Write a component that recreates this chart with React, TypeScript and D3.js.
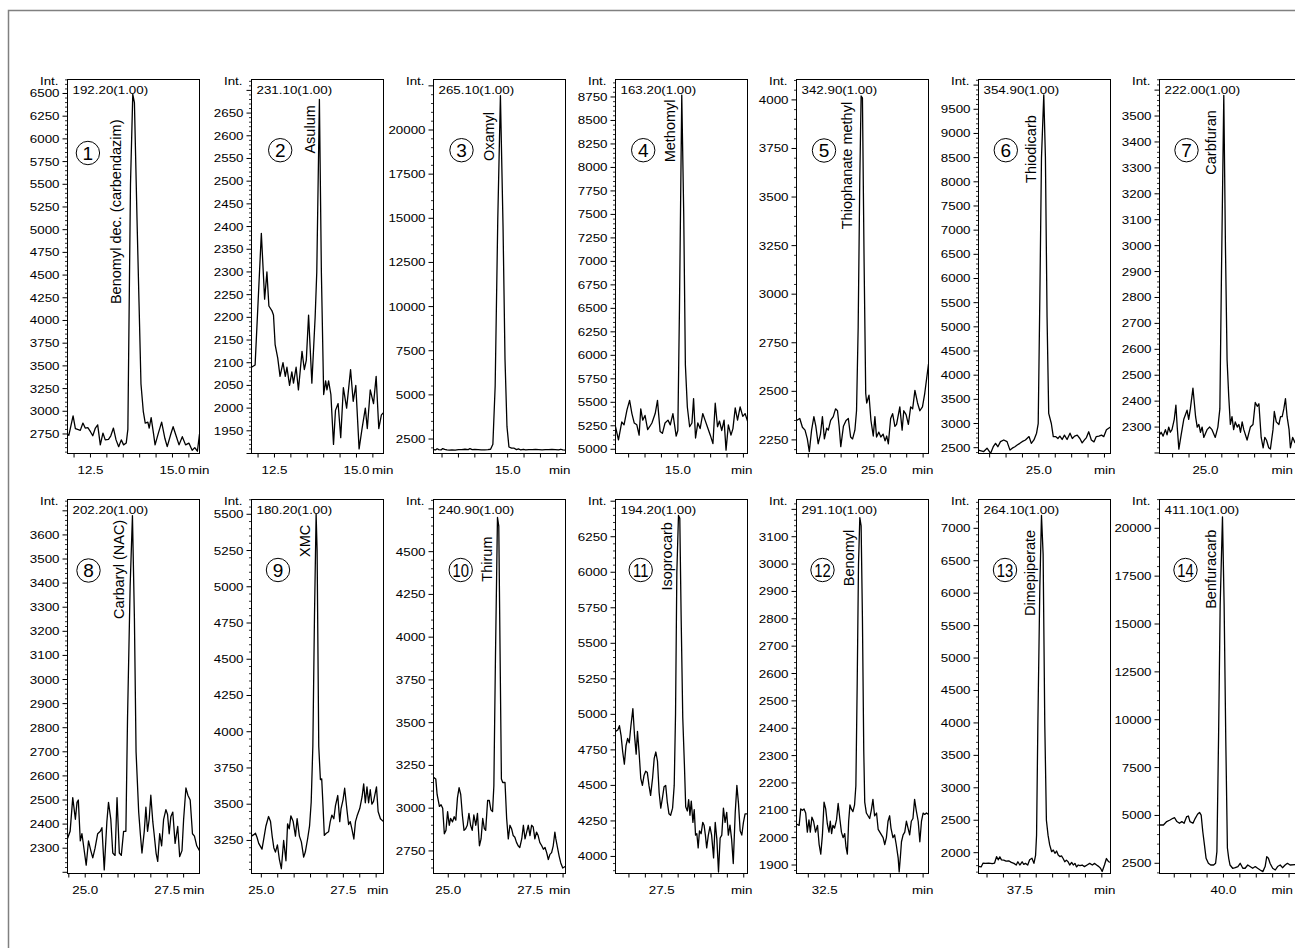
import React from "react";
import * as d3 from "d3";

const FONT = "'Liberation Sans', Arial, Helvetica, sans-serif";
const SX = 1.15;
const TICK_FS = 11.6;

// ---------- data ----------
const mzLabels = [
  "192.20(1.00)", "231.10(1.00)", "265.10(1.00)", "163.20(1.00)", "342.90(1.00)", "354.90(1.00)", "222.00(1.00)",
  "202.20(1.00)", "180.20(1.00)", "240.90(1.00)", "194.20(1.00)", "291.10(1.00)", "264.10(1.00)", "411.10(1.00)",
];
const compounds = [
  "Benomyl dec. (carbendazim)", "Asulum", "Oxamyl", "Methomyl", "Thiophanate methyl", "Thiodicarb", "Carbfuran",
  "Carbaryl (NAC)", "XMC", "Thirum", "Isoprocarb", "Benomyl", "Dimepiperate", "Benfuracarb",
];
const timeDomains = [
  [11.8, 15.824], [11.8, 15.824], [12.74, 16.764], [13.1, 17.124], [22.64, 26.664], [23.16, 27.184], [23.6, 27.868],
  [24.46, 28.484], [24.7, 28.724], [24.55, 28.574], [26.09, 30.114], [31.64, 35.664], [36.24, 40.264], [38.05, 42.318],
];
const intDomains = [
  [2535, 6654], [1900, 2724], [1680, 22860], [4955, 8936], [2180, 4105], [2380, 10116], [2198, 3641],
  [2195, 3747], [3022, 5602], [2618, 4805], [3880, 6512], [1869, 3236], [1679, 7444], [1967, 21504],
];
const yMajorSteps = [250, 50, 2500, 250, 250, 500, 100, 100, 250, 250, 250, 100, 500, 2500];
const xLabelTicks = [
  [12.5, 15], [12.5, 15], [15], [15], [25], [25], [25],
  [25, 27.5], [25, 27.5], [25, 27.5], [27.5], [32.5], [37.5], [40],
];

const trace1 = [[11.8,2750],[11.84,2735],[11.97,2950],[12.04,2810],[12.11,2800],[12.19,2790],[12.27,2870],[12.34,2815],[12.42,2820],[12.5,2775],[12.57,2730],[12.65,2815],[12.72,2850],[12.8,2630],[12.88,2760],[12.95,2685],[13.05,2690],[13.12,2730],[13.2,2815],[13.28,2685],[13.36,2610],[13.44,2685],[13.51,2630],[13.59,2650],[13.64,2800],[13.72,5500],[13.79,6490],[13.84,6400],[13.92,5100],[13.98,4200],[14.04,3300],[14.11,3000],[14.17,2870],[14.25,2880],[14.29,2815],[14.35,2930],[14.42,2760],[14.47,2630],[14.57,2760],[14.67,2880],[14.77,2700],[14.84,2610],[14.95,2750],[15.02,2830],[15.12,2720],[15.2,2630],[15.3,2720],[15.4,2630],[15.5,2650],[15.6,2570],[15.68,2600],[15.76,2560],[15.824,2750]];
const trace2 = [[11.8,2090],[11.91,2095],[12.1,2385],[12.2,2240],[12.27,2300],[12.33,2225],[12.42,2215],[12.47,2205],[12.52,2140],[12.6,2110],[12.67,2070],[12.76,2100],[12.83,2070],[12.88,2090],[12.96,2050],[13.03,2080],[13.08,2055],[13.16,2090],[13.23,2040],[13.34,2125],[13.41,2085],[13.47,2105],[13.54,2205],[13.64,2055],[13.74,2200],[13.79,2300],[13.87,2680],[13.93,2300],[14.0,2030],[14.06,2060],[14.1,2040],[14.15,2060],[14.22,2030],[14.3,1920],[14.36,1995],[14.44,2010],[14.52,1935],[14.6,2045],[14.7,2000],[14.82,2085],[14.9,2015],[14.98,2050],[15.08,1910],[15.17,1955],[15.27,2000],[15.33,1955],[15.42,2040],[15.52,2010],[15.6,2070],[15.68,1955],[15.76,1985],[15.824,1990]];
const trace3 = [[12.74,1900],[12.8,1880],[12.85,1950],[12.9,1900],[12.97,1880],[13.02,1960],[13.08,1910],[13.15,1880],[13.22,1870],[13.3,1880],[13.4,1870],[13.5,1900],[13.6,1900],[13.7,1920],[13.8,1900],[13.85,1960],[13.92,1900],[14.0,1910],[14.1,1900],[14.2,1880],[14.3,1890],[14.4,1900],[14.48,1920],[14.55,2200],[14.62,5500],[14.7,15000],[14.78,21950],[14.86,14500],[14.92,7000],[14.98,3200],[15.04,2050],[15.12,1980],[15.2,1980],[15.27,1900],[15.33,1940],[15.4,1880],[15.48,1920],[15.55,1890],[15.65,1900],[15.75,1900],[15.85,1910],[15.95,1900],[16.05,1890],[16.15,1900],[16.25,1900],[16.35,1910],[16.45,1900],[16.55,1880],[16.62,1920],[16.68,1880],[16.764,1870]];
const trace4 = [[13.1,5240],[13.19,5100],[13.29,5290],[13.36,5260],[13.45,5420],[13.53,5520],[13.6,5380],[13.67,5280],[13.75,5260],[13.82,5150],[13.87,5430],[13.93,5310],[14.0,5360],[14.08,5210],[14.14,5240],[14.21,5280],[14.31,5380],[14.38,5520],[14.46,5190],[14.53,5170],[14.61,5280],[14.7,5310],[14.77,5260],[14.85,5380],[14.9,5260],[14.95,5140],[15.0,5200],[15.05,6500],[15.12,8770],[15.18,7500],[15.23,5900],[15.29,5450],[15.36,5240],[15.43,5280],[15.48,5540],[15.54,5120],[15.61,5280],[15.68,5220],[15.76,5380],[15.83,5310],[15.9,5240],[15.99,5150],[16.07,5060],[16.14,5490],[16.21,5240],[16.27,5300],[16.34,5200],[16.41,5310],[16.47,4990],[16.54,5260],[16.62,5150],[16.68,5220],[16.75,5440],[16.82,5310],[16.9,5450],[16.98,5350],[17.05,5380],[17.124,5300]];
const trace5 = [[22.64,2350],[22.74,2360],[22.82,2315],[22.9,2300],[22.97,2255],[23.03,2190],[23.1,2300],[23.17,2370],[23.23,2320],[23.3,2230],[23.37,2280],[23.43,2370],[23.49,2255],[23.56,2310],[23.61,2300],[23.68,2350],[23.76,2370],[23.83,2410],[23.89,2400],[23.94,2320],[23.99,2215],[24.07,2320],[24.15,2350],[24.22,2360],[24.29,2265],[24.35,2255],[24.42,2300],[24.47,2400],[24.52,2830],[24.57,3600],[24.61,4020],[24.65,4010],[24.7,3175],[24.75,2490],[24.78,2440],[24.85,2480],[24.91,2350],[24.98,2270],[25.03,2370],[25.08,2265],[25.15,2290],[25.21,2265],[25.28,2280],[25.34,2245],[25.39,2270],[25.44,2230],[25.51,2360],[25.57,2385],[25.64,2320],[25.69,2330],[25.79,2420],[25.86,2300],[25.91,2400],[25.98,2380],[26.05,2330],[26.12,2420],[26.18,2410],[26.25,2505],[26.33,2440],[26.4,2400],[26.48,2420],[26.55,2490],[26.664,2640]];
const trace6 = [[23.16,2450],[23.32,2420],[23.42,2490],[23.53,2385],[23.61,2520],[23.68,2590],[23.75,2520],[23.83,2625],[23.93,2660],[24.03,2625],[24.12,2450],[24.19,2490],[24.27,2520],[24.34,2555],[24.42,2590],[24.49,2625],[24.59,2660],[24.7,2730],[24.77,2590],[24.85,2660],[24.93,2800],[24.98,3000],[25.03,5600],[25.08,8500],[25.15,9800],[25.2,8500],[25.25,5200],[25.3,3210],[25.38,3000],[25.44,2730],[25.51,2730],[25.58,2690],[25.64,2740],[25.71,2670],[25.78,2760],[25.86,2670],[25.95,2800],[26.02,2690],[26.09,2740],[26.17,2760],[26.25,2690],[26.32,2600],[26.39,2660],[26.45,2710],[26.52,2830],[26.6,2660],[26.68,2620],[26.75,2730],[26.83,2740],[26.91,2760],[26.98,2730],[27.06,2870],[27.184,2930]];
const trace7 = [[23.6,2270],[23.65,2280],[23.71,2265],[23.78,2290],[23.83,2270],[23.88,2300],[23.93,2280],[23.98,2290],[24.05,2330],[24.1,2385],[24.14,2300],[24.19,2215],[24.26,2270],[24.34,2330],[24.44,2365],[24.49,2330],[24.54,2370],[24.62,2450],[24.7,2340],[24.75,2300],[24.8,2310],[24.85,2280],[24.9,2300],[24.95,2260],[25.05,2290],[25.13,2300],[25.2,2290],[25.3,2260],[25.38,2300],[25.44,2370],[25.49,2900],[25.56,3580],[25.61,3000],[25.66,2560],[25.71,2420],[25.76,2310],[25.81,2340],[25.86,2290],[25.91,2320],[25.97,2300],[26.02,2310],[26.07,2280],[26.12,2320],[26.17,2290],[26.27,2250],[26.37,2300],[26.45,2310],[26.52,2395],[26.58,2380],[26.63,2390],[26.7,2260],[26.76,2220],[26.81,2260],[26.86,2250],[26.93,2220],[26.98,2215],[27.06,2290],[27.1,2360],[27.16,2320],[27.24,2310],[27.29,2340],[27.34,2340],[27.39,2370],[27.44,2410],[27.49,2340],[27.55,2290],[27.59,2220],[27.66,2260],[27.73,2240],[27.868,2250]];
const trace8 = [[24.46,2340],[24.54,2370],[24.62,2510],[24.7,2420],[24.75,2490],[24.79,2500],[24.85,2330],[24.9,2360],[24.95,2310],[25.03,2230],[25.1,2330],[25.17,2290],[25.23,2260],[25.3,2300],[25.38,2360],[25.46,2370],[25.51,2385],[25.58,2210],[25.66,2410],[25.71,2490],[25.78,2420],[25.84,2280],[25.91,2270],[25.97,2510],[26.04,2280],[26.1,2270],[26.17,2370],[26.24,2370],[26.29,2840],[26.37,3390],[26.44,3680],[26.5,3250],[26.55,2700],[26.63,2450],[26.68,2360],[26.73,2280],[26.8,2370],[26.85,2470],[26.9,2370],[26.95,2420],[27.0,2520],[27.06,2410],[27.1,2360],[27.16,2280],[27.21,2245],[27.27,2360],[27.33,2310],[27.39,2420],[27.46,2460],[27.51,2440],[27.56,2360],[27.61,2430],[27.67,2450],[27.74,2320],[27.82,2390],[27.88,2265],[27.95,2290],[28.0,2420],[28.07,2550],[28.13,2520],[28.2,2500],[28.27,2360],[28.33,2350],[28.4,2310],[28.484,2290]];
const trace9 = [[24.7,3280],[24.77,3290],[24.82,3300],[24.87,3270],[24.92,3230],[25.02,3190],[25.08,3270],[25.14,3350],[25.22,3415],[25.28,3380],[25.33,3280],[25.38,3200],[25.43,3170],[25.49,3220],[25.55,3120],[25.61,3055],[25.68,3250],[25.75,3110],[25.8,3365],[25.85,3330],[25.9,3420],[25.97,3380],[26.04,3280],[26.09,3400],[26.16,3280],[26.22,3240],[26.29,3135],[26.34,3170],[26.41,3260],[26.47,3350],[26.52,3515],[26.57,3900],[26.62,4800],[26.67,5500],[26.7,5250],[26.75,3900],[26.8,3670],[26.84,3675],[26.88,3490],[26.92,3285],[26.98,3300],[27.05,3310],[27.1,3380],[27.15,3425],[27.21,3400],[27.26,3490],[27.33,3560],[27.39,3380],[27.43,3470],[27.49,3530],[27.54,3610],[27.61,3460],[27.66,3360],[27.71,3380],[27.76,3330],[27.82,3260],[27.87,3380],[27.92,3420],[28.0,3470],[28.07,3550],[28.12,3640],[28.17,3510],[28.22,3620],[28.27,3510],[28.32,3600],[28.37,3500],[28.42,3520],[28.51,3620],[28.56,3450],[28.63,3400],[28.724,3380]];
const trace10 = [[24.55,3180],[24.62,3170],[24.66,3080],[24.73,3010],[24.78,3020],[24.83,3000],[24.88,2850],[24.93,2870],[24.98,2980],[25.03,2900],[25.07,2940],[25.13,2920],[25.18,2950],[25.23,2930],[25.28,3060],[25.33,3120],[25.38,3080],[25.43,2960],[25.48,2870],[25.53,2880],[25.58,2900],[25.63,2970],[25.68,2900],[25.73,2870],[25.78,2960],[25.84,2900],[25.89,2970],[25.95,2780],[26.0,2820],[26.05,2940],[26.1,2880],[26.14,2870],[26.2,3045],[26.25,3045],[26.3,2990],[26.35,2980],[26.39,3130],[26.44,3900],[26.5,4700],[26.54,4650],[26.58,3900],[26.62,3170],[26.66,3150],[26.73,3150],[26.78,2940],[26.83,2820],[26.88,2900],[26.93,2880],[26.98,2840],[27.03,2830],[27.08,2800],[27.13,2780],[27.18,2770],[27.24,2820],[27.29,2900],[27.34,2820],[27.39,2860],[27.44,2900],[27.49,2840],[27.54,2900],[27.59,2890],[27.64,2820],[27.69,2860],[27.74,2840],[27.79,2800],[27.85,2780],[27.9,2760],[27.95,2770],[28.0,2740],[28.05,2700],[28.1,2730],[28.15,2740],[28.2,2780],[28.25,2860],[28.28,2820],[28.32,2780],[28.38,2720],[28.43,2680],[28.49,2650],[28.574,2660]];
const trace11 = [[26.09,4880],[26.16,4890],[26.21,4920],[26.26,4850],[26.31,4735],[26.36,4650],[26.41,4780],[26.46,4830],[26.51,4800],[26.56,4920],[26.62,5040],[26.67,4850],[26.72,4720],[26.76,4880],[26.81,4730],[26.86,4550],[26.91,4500],[26.96,4570],[27.01,4600],[27.06,4590],[27.11,4500],[27.16,4430],[27.22,4550],[27.27,4690],[27.32,4735],[27.37,4670],[27.42,4450],[27.47,4340],[27.52,4410],[27.57,4490],[27.62,4500],[27.67,4380],[27.72,4300],[27.77,4290],[27.83,4340],[27.88,4500],[27.92,5000],[27.96,6000],[28.01,6400],[28.05,6380],[28.09,5700],[28.14,4980],[28.19,4650],[28.23,4350],[28.28,4320],[28.32,4400],[28.36,4290],[28.4,4390],[28.45,4240],[28.49,4330],[28.53,4150],[28.57,4160],[28.61,4060],[28.65,4180],[28.7,4160],[28.75,4240],[28.79,4220],[28.83,4150],[28.87,4060],[28.92,4150],[28.97,4210],[29.02,4150],[29.08,3990],[29.13,4240],[29.18,4120],[29.23,3890],[29.28,4130],[29.33,4150],[29.38,4340],[29.43,4240],[29.48,4310],[29.53,4150],[29.58,4220],[29.63,4120],[29.68,3950],[29.74,4310],[29.79,4500],[29.84,4370],[29.89,4180],[29.94,4150],[29.99,4240],[30.04,4300],[30.114,4300]];
const trace12 = [[31.64,2050],[31.72,2045],[31.77,2105],[31.82,2100],[31.87,2105],[31.92,2090],[31.97,2020],[32.02,2065],[32.06,2020],[32.11,2075],[32.16,2060],[32.22,2020],[32.28,2045],[32.33,1975],[32.38,1940],[32.43,2010],[32.48,2130],[32.53,2105],[32.58,2050],[32.63,2020],[32.67,2060],[32.71,2015],[32.75,2045],[32.8,2035],[32.86,2065],[32.91,2125],[32.96,2070],[33.01,2020],[33.06,2000],[33.11,2015],[33.15,1965],[33.19,1940],[33.23,2060],[33.27,2120],[33.31,2105],[33.36,2095],[33.41,2120],[33.45,2190],[33.49,2560],[33.53,3000],[33.57,3170],[33.61,3140],[33.65,2800],[33.69,2320],[33.72,2130],[33.77,2090],[33.82,2080],[33.87,2070],[33.92,2100],[33.97,2140],[34.02,2080],[34.08,2090],[34.13,2030],[34.18,2020],[34.23,2010],[34.28,2000],[34.33,1975],[34.38,2000],[34.43,2060],[34.48,2080],[34.52,2035],[34.58,2000],[34.63,2010],[34.68,1975],[34.74,1925],[34.77,1875],[34.81,1935],[34.84,1985],[34.89,2010],[34.94,2020],[34.99,2060],[35.04,2035],[35.09,2010],[35.14,2060],[35.19,2070],[35.24,2140],[35.29,2100],[35.35,2060],[35.4,1985],[35.45,2060],[35.5,2090],[35.55,2085],[35.6,2090],[35.664,2085]];
const trace13 = [[36.24,1790],[36.32,1780],[36.38,1840],[36.45,1835],[36.55,1840],[36.66,1830],[36.73,1840],[36.79,1940],[36.84,1890],[36.89,1935],[36.94,1890],[37.01,1885],[37.08,1870],[37.16,1875],[37.24,1850],[37.32,1835],[37.39,1810],[37.44,1860],[37.5,1810],[37.57,1860],[37.62,1820],[37.67,1835],[37.74,1810],[37.8,1890],[37.87,1915],[37.93,1835],[37.98,1960],[38.01,2270],[38.05,4000],[38.11,6100],[38.16,7200],[38.21,6600],[38.26,4000],[38.31,2500],[38.36,2270],[38.41,2120],[38.47,2015],[38.52,2040],[38.57,1990],[38.62,2025],[38.67,1965],[38.72,1940],[38.77,1950],[38.82,1910],[38.87,1860],[38.92,1885],[38.97,1860],[39.02,1810],[39.08,1850],[39.13,1810],[39.18,1835],[39.23,1780],[39.28,1810],[39.33,1800],[39.4,1810],[39.47,1785],[39.55,1810],[39.63,1835],[39.71,1810],[39.78,1835],[39.84,1810],[39.91,1785],[39.96,1760],[40.01,1710],[40.08,1810],[40.14,1910],[40.21,1860],[40.264,1850]];
const trace14 = [[38.05,4500],[38.17,4500],[38.27,4680],[38.37,4760],[38.46,4850],[38.51,4880],[38.58,4680],[38.66,4590],[38.73,4680],[38.8,4590],[38.88,4940],[38.93,4970],[38.98,4680],[39.07,4590],[39.14,4850],[39.21,5060],[39.27,5160],[39.32,5020],[39.37,4150],[39.42,3460],[39.47,2760],[39.54,2500],[39.61,2410],[39.7,2410],[39.76,2500],[39.8,3110],[39.85,9000],[39.9,16000],[39.97,20600],[40.02,16000],[40.07,9000],[40.12,3300],[40.16,2760],[40.2,2410],[40.28,2240],[40.36,2270],[40.44,2330],[40.51,2500],[40.59,2240],[40.66,2240],[40.74,2410],[40.81,2330],[40.89,2240],[40.97,2330],[41.04,2240],[41.12,2150],[41.2,2065],[41.27,2330],[41.32,2850],[41.37,2760],[41.42,2500],[41.5,2240],[41.58,2150],[41.65,2330],[41.73,2410],[41.8,2270],[41.88,2410],[41.95,2500],[42.03,2410],[42.318,2450]];
const traces = [trace1, trace2, trace3, trace4, trace5, trace6, trace7, trace8, trace9, trace10, trace11, trace12, trace13, trace14];

// ---------- layout (pixels, not data) ----------
const PANEL_LEFTS = [67.5, 251.5, 433.5, 615.5, 796.5, 978.5, 1159.5];
const ROW_TOPS = [79.5, 499.5];
const PANEL_W = 132;
const LAST_W = 140;
const PANEL_H = 374;
const PAGE_W = 1295;
const LABEL_POS = [
  [53, 40], [63.7, 25.7], [60.4, 32.4], [59.4, 20], [55.3, 22.4], [57.4, 35.7], [56, 30.7],
  [56.4, 20.3], [58.4, 25.3], [58.1, 37], [56.8, 22.6], [57.7, 30.3], [56.7, 30.3], [56.7, 30.3],
];
const CIRCLE_POS = [
  [20.4, 73.5], [28.7, 70.7], [28, 70.7], [27.7, 70.7], [27.5, 71], [27.3, 70.7], [27, 70.7],
  [21, 71], [26.5, 70.5], [27.2, 70.5], [25.2, 70.5], [26, 70.5], [26.5, 70.5], [26, 70.5],
];

function HText({ x, y, anchor = "start", children }: any) {
  return (
    <text
      transform={`translate(${x},${y}) scale(${SX},1)`}
      textAnchor={anchor}
      fontSize={TICK_FS}
      fontFamily={FONT}
      fill="#000"
    >
      {children}
    </text>
  );
}

function approxWidth(s: string) {
  let w = 0;
  for (const c of s) w += c === "." ? 0.278 : c === "m" ? 0.833 : c === "i" ? 0.222 : 0.556;
  return w * TICK_FS * SX;
}

function Panel({ i }: { i: number }) {
  const col = i % 7;
  const row = i < 7 ? 0 : 1;
  const left = PANEL_LEFTS[col];
  const top = ROW_TOPS[row];
  const width = col === 6 ? LAST_W : PANEL_W;
  const bottom = top + PANEL_H;
  const right = left + width;

  const x = d3.scaleLinear().domain(timeDomains[i]).range([left, right]);
  const y = d3.scaleLinear().domain(intDomains[i]).range([bottom, top]);
  const line = d3
    .line<number[]>()
    .x((d) => x(d[0]))
    .y((d) => y(d[1]));

  const step = yMajorSteps[i];
  const [v0, v1] = intDomains[i];
  const majors = d3.range(Math.ceil(v0 / step) * step, v1 + 1e-6, step);
  const mstep = step / 5;
  const minors = d3
    .range(Math.ceil(v0 / mstep) * mstep, v1 + 1e-6, mstep)
    .filter((v) => Math.abs(v / step - Math.round(v / step)) > 1e-6);

  const [t0, t1] = timeDomains[i];
  const xticks = d3.range(Math.ceil(t0 / 0.5 - 1e-9) * 0.5, t1, 0.5);
  const labels = xLabelTicks[i];
  const lastLab = labels[labels.length - 1];
  const lastEnd = x(lastLab) + approxWidth(lastLab.toFixed(1)) / 2;
  const minW = approxWidth("min");
  const minX = Math.min(Math.max(right - 16.5, lastEnd + 2.5), PAGE_W - 2 - minW);

  const [lx, ly] = LABEL_POS[i];
  const [cx, cy] = CIRCLE_POS[i];
  const num = String(i + 1);
  const clipId = `clip-${i}`;

  return (
    <g>
      <defs>
        <clipPath id={clipId}>
          <rect x={left} y={top - 2} width={width} height={PANEL_H + 2} />
        </clipPath>
      </defs>
      {minors.map((v) => (
        <line key={"mi" + v} x1={left - 2.5} x2={left} y1={y(v)} y2={y(v)} stroke="#000" strokeWidth={0.8} />
      ))}
      {majors.map((v) => (
        <line key={"ma" + v} x1={left - 5} x2={left} y1={y(v)} y2={y(v)} stroke="#000" strokeWidth={1} />
      ))}
      {majors
        .filter((v) => y(v) >= top + 12.5 && y(v) <= bottom - 3)
        .map((v) => (
          <HText key={"yl" + v} x={left - 8} y={y(v) + 4} anchor="end">
            {String(v)}
          </HText>
        ))}
      {xticks.map((t) => (
        <line key={"xt" + t} x1={x(t)} x2={x(t)} y1={bottom} y2={bottom + 4} stroke="#000" strokeWidth={1} />
      ))}
      {labels.map((t) => (
        <HText key={"xl" + t} x={x(t)} y={bottom + 20.5} anchor="middle">
          {t.toFixed(1)}
        </HText>
      ))}
      <HText x={minX} y={bottom + 20.5}>min</HText>
      <HText x={left - 9} y={top + 5} anchor="end">Int.</HText>
      <path
        d={line(traces[i] as any) || ""}
        fill="none"
        stroke="#000"
        strokeWidth={1.3}
        strokeLinejoin="round"
        clipPath={`url(#${clipId})`}
      />
      <rect x={left} y={top} width={width} height={PANEL_H} fill="none" stroke="#000" strokeWidth={1} />
      <HText x={left + 5} y={top + 14.5}>{mzLabels[i]}</HText>
      <text
        transform={`translate(${left + lx},${top + ly}) rotate(-90)`}
        textAnchor="end"
        fontSize={14.5}
        fontFamily={FONT}
        fill="#000"
      >
        {compounds[i]}
      </text>
      <circle cx={left + cx} cy={top + cy} r={11.7} fill="none" stroke="#000" strokeWidth={1} />
      <text
        transform={`translate(${left + cx},${top + cy + 6.8}) scale(${num.length > 1 ? 0.78 : 1},1)`}
        textAnchor="middle"
        fontSize={19}
        fontFamily={FONT}
        fill="#000"
      >
        {num}
      </text>
    </g>
  );
}

export default function App() {
  return (
    <svg
      width={1295}
      height={948}
      style={{ position: "absolute", left: 0, top: 0, background: "#fff" }}
    >
      <rect x={8.5} y={10.5} width={1400} height={1000} fill="none" stroke="#808080" strokeWidth={1.5} />
      {d3.range(14).map((i) => (
        <Panel key={i} i={i} />
      ))}
    </svg>
  );
}
